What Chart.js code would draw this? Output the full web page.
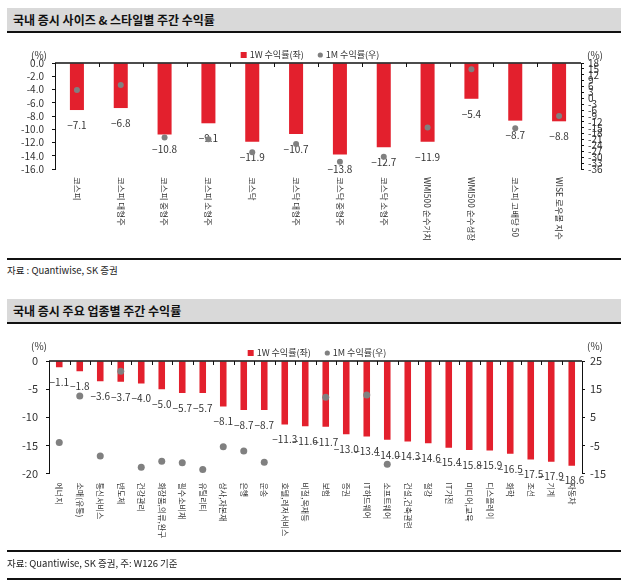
<!DOCTYPE html>
<html>
<head>
<meta charset="utf-8">
<script src="https://cdn.jsdelivr.net/npm/chart.js@4.4.1/dist/chart.umd.min.js"></script>
<style>
  body { margin: 0; width: 631px; height: 582px; background: #fff; position: relative; overflow: hidden;
         font-family: "Noto Sans CJK KR", "Noto Sans", sans-serif; color: #222; }
  .head { position: absolute; left: 7px; width: 614px; height: 25px; background: #d9d9d9; border-bottom: 2px solid #111;
          box-sizing: border-box; padding-left: 6px; font-size: 12px; font-weight: bold; line-height: 23px; color: #111; }
  .rule { position: absolute; left: 7px; width: 614px; height: 2px; background: #111; }
  .src { position: absolute; left: 7px; font-size: 9.5px; color: #222; }
  .wrap { position: absolute; left: 0; width: 631px; }
</style>
</head>
<body>
<div class="head" style="top:8px">국내 증시 사이즈 &amp; 스타일별 주간 수익률</div>
<div class="wrap" style="top:44px;height:214px"><canvas id="sizeChart"></canvas></div>
<div class="rule" style="top:258px"></div>
<div class="src" style="top:263px">자료 : Quantiwise, SK 증권</div>

<div class="head" style="top:299px">국내 증시 주요 업종별 주간 수익률</div>
<div class="wrap" style="top:335px;height:216px"><canvas id="sectorChart"></canvas></div>
<div class="rule" style="top:550px"></div>
<div class="src" style="top:556px">자료: Quantiwise, SK 증권, 주: W126 기준</div>
<div class="rule" style="top:578px"></div>

<script>
// --- 데이터 ---
const sizeLabels = ['코스피', '코스피 대형주', '코스피 중형주', '코스피 소형주', '코스닥', '코스닥 대형주',
  '코스닥 중형주', '코스닥 소형주', 'WMI500 순수가치', 'WMI500 순수성장', '코스피 고배당 50', 'WISE 로우볼 지수'];
const sizeWeek = [-7.1, -6.8, -10.8, -9.1, -11.9, -10.7, -13.8, -12.7, -11.9, -5.4, -8.7, -8.8];
const sizeMonth = [4.3, 6.8, -20.0, -20.9, -27.5, -23.3, -32.3, -29.7, -14.8, 14.8, -15.3, -9.0];
const sizeLeftTicks = [0, -2, -4, -6, -8, -10, -12, -14, -16];
const sizeRightTicks = [18, 15, 12, 9, 6, 3, 0, -3, -6, -9, -12, -15, -18, -21, -24, -27, -30, -33, -36];

const sectorLabels = ['에너지', '소매(유통)', '통신서비스', '반도체', '건강관리', '화장품,의류,완구', '필수소비재',
  '유틸리티', '상사,자본재', '은행', '운송', '호텔,레저서비스', '비철,목재등', '보험', '증권', 'IT하드웨어',
  '소프트웨어', '건설,건축관련', '철강', 'IT가전', '미디어,교육', '디스플레이', '화학', '조선', '기계', '자동차'];
const sectorWeek = [-1.1, -1.8, -3.6, -3.7, -4.0, -5.0, -5.7, -5.7, -8.1, -8.7, -8.7, -11.3, -11.6, -11.7,
  -13.0, -13.4, -14.0, -14.3, -14.6, -15.4, -15.8, -15.9, -16.5, -17.5, -17.9, -18.6];
// 1M 값: 그림에서 보이지 않는 점(축 범위 밖)은 null
const sectorMonth = [-4.0, 12.6, -8.8, 21.4, -12.8, -10.6, -11.2, -13.6, -5.5, -7.0, -11.0, null, null, 12.1,
  null, 12.9, -11.7, null, null, null, null, null, null, null, null, null];
const sectorLeftTicks = [0, -5, -10, -15, -20];
const sectorRightTicks = [25, 15, 5, -5, -15];

const RED = '#e3202d';
const GRAY = '#808080';
const FONT = '"Noto Sans CJK KR", "Noto Sans", sans-serif';

// 값 라벨, 0선 눈금, 세로 카테고리 라벨, 범례, (%) 표시
const decor = {
  id: 'decor',
  afterDatasetDraw(chart, args, o) {
    if (args.index !== 0) return;
    const ctx = chart.ctx;
    ctx.save();
    ctx.font = o.valueSize + 'px ' + FONT;
    ctx.fillStyle = '#333';
    ctx.textAlign = 'center';
    ctx.textBaseline = 'middle';
    args.meta.data.forEach((bar, i) => {
      const v = chart.data.datasets[0].data[i];
      ctx.fillText(v.toFixed(1).replace('-', '\u2212'), bar.x, bar.y + 15);
    });
    ctx.restore();
  },
  afterDraw(chart, args, o) {
    const { ctx, chartArea: a, scales: { x, y } } = chart;
    const y0 = y.getPixelForValue(0);
    ctx.save();
    // 0 기준선 + 아래쪽 눈금
    ctx.strokeStyle = '#111';
    ctx.lineWidth = 1.5;
    ctx.beginPath();
    ctx.moveTo(a.left, y0);
    ctx.lineTo(a.right, y0);
    ctx.stroke();
    ctx.lineWidth = 1;
    ctx.beginPath();
    for (let i = 1; i < chart.data.labels.length; i++) {
      const bx = Math.round(x.getPixelForValue(i - 0.5)) + 0.5;
      ctx.moveTo(bx, y0);
      ctx.lineTo(bx, y0 + 4);
    }
    ctx.stroke();

    // 세로 라벨 (위에서 아래로)
    ctx.fillStyle = '#333';
    ctx.font = o.catSize + 'px ' + FONT;
    ctx.textAlign = 'left';
    ctx.textBaseline = 'middle';
    chart.data.labels.forEach((lab, i) => {
      ctx.save();
      ctx.translate(x.getPixelForTick(i), a.bottom + o.catGap);
      ctx.rotate(Math.PI / 2);
      ctx.fillText(lab, 0, 0);
      ctx.restore();
    });

    // 범례
    ctx.font = o.legendSize + 'px ' + FONT;
    const ds = chart.data.datasets;
    const w0 = ctx.measureText(ds[0].label).width;
    const w1 = ctx.measureText(ds[1].label).width;
    const total = 6 + 3 + w0 + 14 + 5 + 3 + w1;
    let lx = o.legendX - total / 2;
    const ly = a.top - o.legendUp;
    ctx.fillStyle = RED;
    ctx.fillRect(lx, ly - 3, 6, 6);
    lx += 9;
    ctx.fillStyle = '#333';
    ctx.fillText(ds[0].label, lx, ly);
    lx += w0 + 14;
    ctx.fillStyle = GRAY;
    ctx.beginPath();
    ctx.arc(lx + 2.5, ly, 2.6, 0, Math.PI * 2);
    ctx.fill();
    lx += 8;
    ctx.fillStyle = '#333';
    ctx.fillText(ds[1].label, lx, ly);

    // (%) 단위
    ctx.font = o.unitSize + 'px ' + FONT;
    ctx.textAlign = 'center';
    ctx.fillText('(%)', 39, a.top - o.unitUp);
    ctx.fillText('(%)', chart.width - 36, a.top - o.unitUp);
    ctx.restore();
  }
};

function makeChart(id, labels, week, month, leftTicks, rightTicks, s) {
  const yAxis = (ticks, pos, width, pad, fmt) => ({
    type: 'linear',
    position: pos,
    min: Math.min(...ticks),
    max: Math.max(...ticks),
    afterFit: scale => { scale.width = width; },
    border: { display: true, color: '#111', width: 1 },
    grid: { drawOnChartArea: false, drawTicks: true, tickLength: 3, color: '#111' },
    ticks: {
      stepSize: Math.abs(ticks[0] - ticks[1]),
      autoSkip: false,
      padding: pad,
      color: '#333',
      font: { family: FONT, size: s.tickSize },
      callback: fmt
    }
  });
  return new Chart(document.getElementById(id), {
    type: 'bar',
    data: {
      labels: labels,
      datasets: [{
        label: '1W 수익률(좌)',
        data: week,
        backgroundColor: RED,
        borderWidth: 0,
        barPercentage: 1,
        categoryPercentage: s.barFrac,
        yAxisID: 'y',
        order: 2
      }, {
        type: 'line',
        label: '1M 수익률(우)',
        data: month,
        showLine: false,
        pointRadius: s.dot,
        pointBackgroundColor: GRAY,
        pointBorderWidth: 0,
        yAxisID: 'y1',
        order: 1
      }]
    },
    plugins: [decor],
    options: {
      responsive: true,
      maintainAspectRatio: false,
      animation: false,
      layout: { padding: { top: s.top, left: 0, right: 0, bottom: 0 } },
      scales: {
        x: {
          afterFit: scale => { scale.height = s.xHeight; },
          border: { display: false },
          grid: { display: false },
          ticks: { display: false }
        },
        y: yAxis(leftTicks, 'left', s.leftW, s.leftPad, s.leftFmt),
        y1: yAxis(rightTicks, 'right', s.rightW, s.rightPad, v => v)
      },
      plugins: {
        legend: { display: false },
        tooltip: { enabled: false },
        decor: {
          valueSize: 10, catSize: s.catSize, catGap: s.catGap, legendSize: 9,
          legendX: s.legendX, legendUp: s.legendUp, unitSize: 10, unitUp: s.unitUp
        }
      }
    }
  });
}

makeChart('sizeChart', sizeLabels, sizeWeek, sizeMonth, sizeLeftTicks, sizeRightTicks, {
  top: 19, xHeight: 89, leftW: 55, rightW: 50, leftPad: 8, rightPad: 4, tickSize: 10,
  barFrac: 0.32, dot: 3, catSize: 8.5, catGap: 8, legendX: 310, legendUp: 8, unitUp: 8,
  leftFmt: v => v.toFixed(1)
});

makeChart('sectorChart', sectorLabels, sectorWeek, sectorMonth, sectorLeftTicks, sectorRightTicks, {
  top: 26, xHeight: 77.5, leftW: 49, rightW: 49, leftPad: 8, rightPad: 5, tickSize: 11,
  barFrac: 0.32, dot: 3.5, catSize: 8, catGap: 9, legendX: 317, legendUp: 8, unitUp: 15,
  leftFmt: v => v
});
</script>
</body>
</html>
